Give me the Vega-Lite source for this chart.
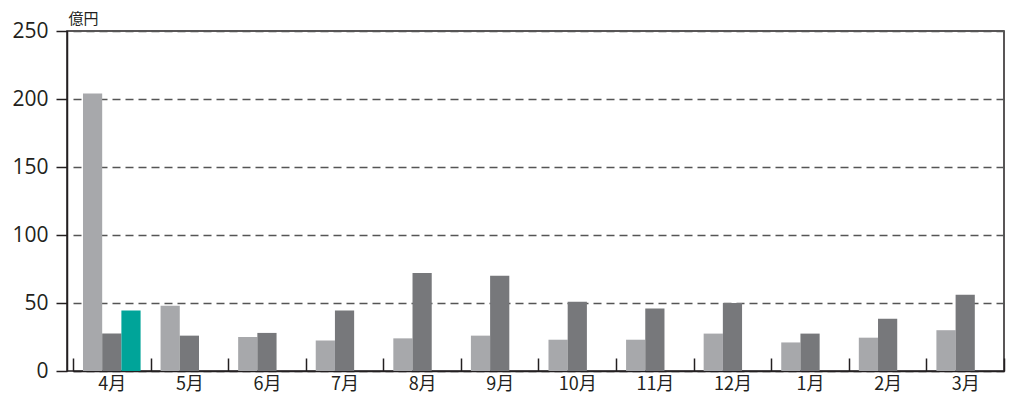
{
  "$schema": "https://vega.github.io/schema/vega-lite/v6.json",
  "width": 937,
  "height": 340,
  "autosize": {"type": "none"},
  "padding": {"left": 67, "top": 31, "right": 5, "bottom": 30},
  "background": "white",
  "config": {
    "view": {"stroke": "#231f20", "strokeWidth": 1.5},
    "font": "Open Sans"
  },
  "data": {
    "values": [
      {"month": "4月", "series": "系列1", "value": 204},
      {"month": "4月", "series": "系列2", "value": 27.5},
      {"month": "4月", "series": "系列3", "value": 44.5},
      {"month": "5月", "series": "系列1", "value": 48},
      {"month": "5月", "series": "系列2", "value": 26},
      {"month": "6月", "series": "系列1", "value": 25},
      {"month": "6月", "series": "系列2", "value": 28},
      {"month": "7月", "series": "系列1", "value": 22.5},
      {"month": "7月", "series": "系列2", "value": 44.5},
      {"month": "8月", "series": "系列1", "value": 24},
      {"month": "8月", "series": "系列2", "value": 72},
      {"month": "9月", "series": "系列1", "value": 26},
      {"month": "9月", "series": "系列2", "value": 70},
      {"month": "10月", "series": "系列1", "value": 23},
      {"month": "10月", "series": "系列2", "value": 51},
      {"month": "11月", "series": "系列1", "value": 23},
      {"month": "11月", "series": "系列2", "value": 46},
      {"month": "12月", "series": "系列1", "value": 27.5},
      {"month": "12月", "series": "系列2", "value": 50},
      {"month": "1月", "series": "系列1", "value": 21},
      {"month": "1月", "series": "系列2", "value": 27.5},
      {"month": "2月", "series": "系列1", "value": 24.5},
      {"month": "2月", "series": "系列2", "value": 38.5},
      {"month": "3月", "series": "系列1", "value": 30},
      {"month": "3月", "series": "系列2", "value": 56}
    ]
  },
  "mark": {"type": "bar"},
  "encoding": {
    "x": {
      "field": "month",
      "type": "nominal",
      "sort": ["4月", "5月", "6月", "7月", "8月", "9月", "10月", "11月", "12月", "1月", "2月", "3月"],
      "scale": {"paddingInner": 0, "paddingOuter": 0, "range": [6, 937]},
      "axis": {
        "title": null,
        "tickBand": "extent",
        "tickSize": -13,
        "tickColor": "#231f20",
        "tickWidth": 1.5,
        "domainColor": "#231f20",
        "domainWidth": 1.5,
        "labelAngle": 0,
        "labelFont": "Noto Sans CJK JP",
        "labelFontSize": 18,
        "labelColor": "#231f20",
        "labelPadding": 17,
        "grid": false
      }
    },
    "xOffset": {
      "field": "series",
      "type": "nominal",
      "scale": {"domain": ["系列1", "系列2", "系列3"], "paddingInner": 0, "paddingOuter": 0.52}
    },
    "y": {
      "field": "value",
      "type": "quantitative",
      "scale": {"domain": [0, 250], "nice": false},
      "axis": {
        "values": [0, 50, 100, 150, 200, 250],
        "title": "億円",
        "titleAngle": 0,
        "titleAlign": "left",
        "titleBaseline": "alphabetic",
        "titleX": 1,
        "titleY": -8,
        "titleFont": "Noto Sans CJK JP",
        "titleFontSize": 15,
        "titleFontWeight": "normal",
        "titleColor": "#231f20",
        "tickSize": 11,
        "tickColor": "#231f20",
        "tickWidth": 1.5,
        "domainColor": "#231f20",
        "domainWidth": 1.5,
        "labelFontSize": 21,
        "labelColor": "#231f20",
        "labelPadding": 8,
        "grid": true,
        "gridColor": "#555555",
        "gridWidth": 1.5,
        "gridDash": [8, 5]
      }
    },
    "color": {
      "field": "series",
      "type": "nominal",
      "scale": {"domain": ["系列1", "系列2", "系列3"], "range": ["#a7a8ab", "#77787b", "#00a499"]},
      "legend": null
    }
  }
}
